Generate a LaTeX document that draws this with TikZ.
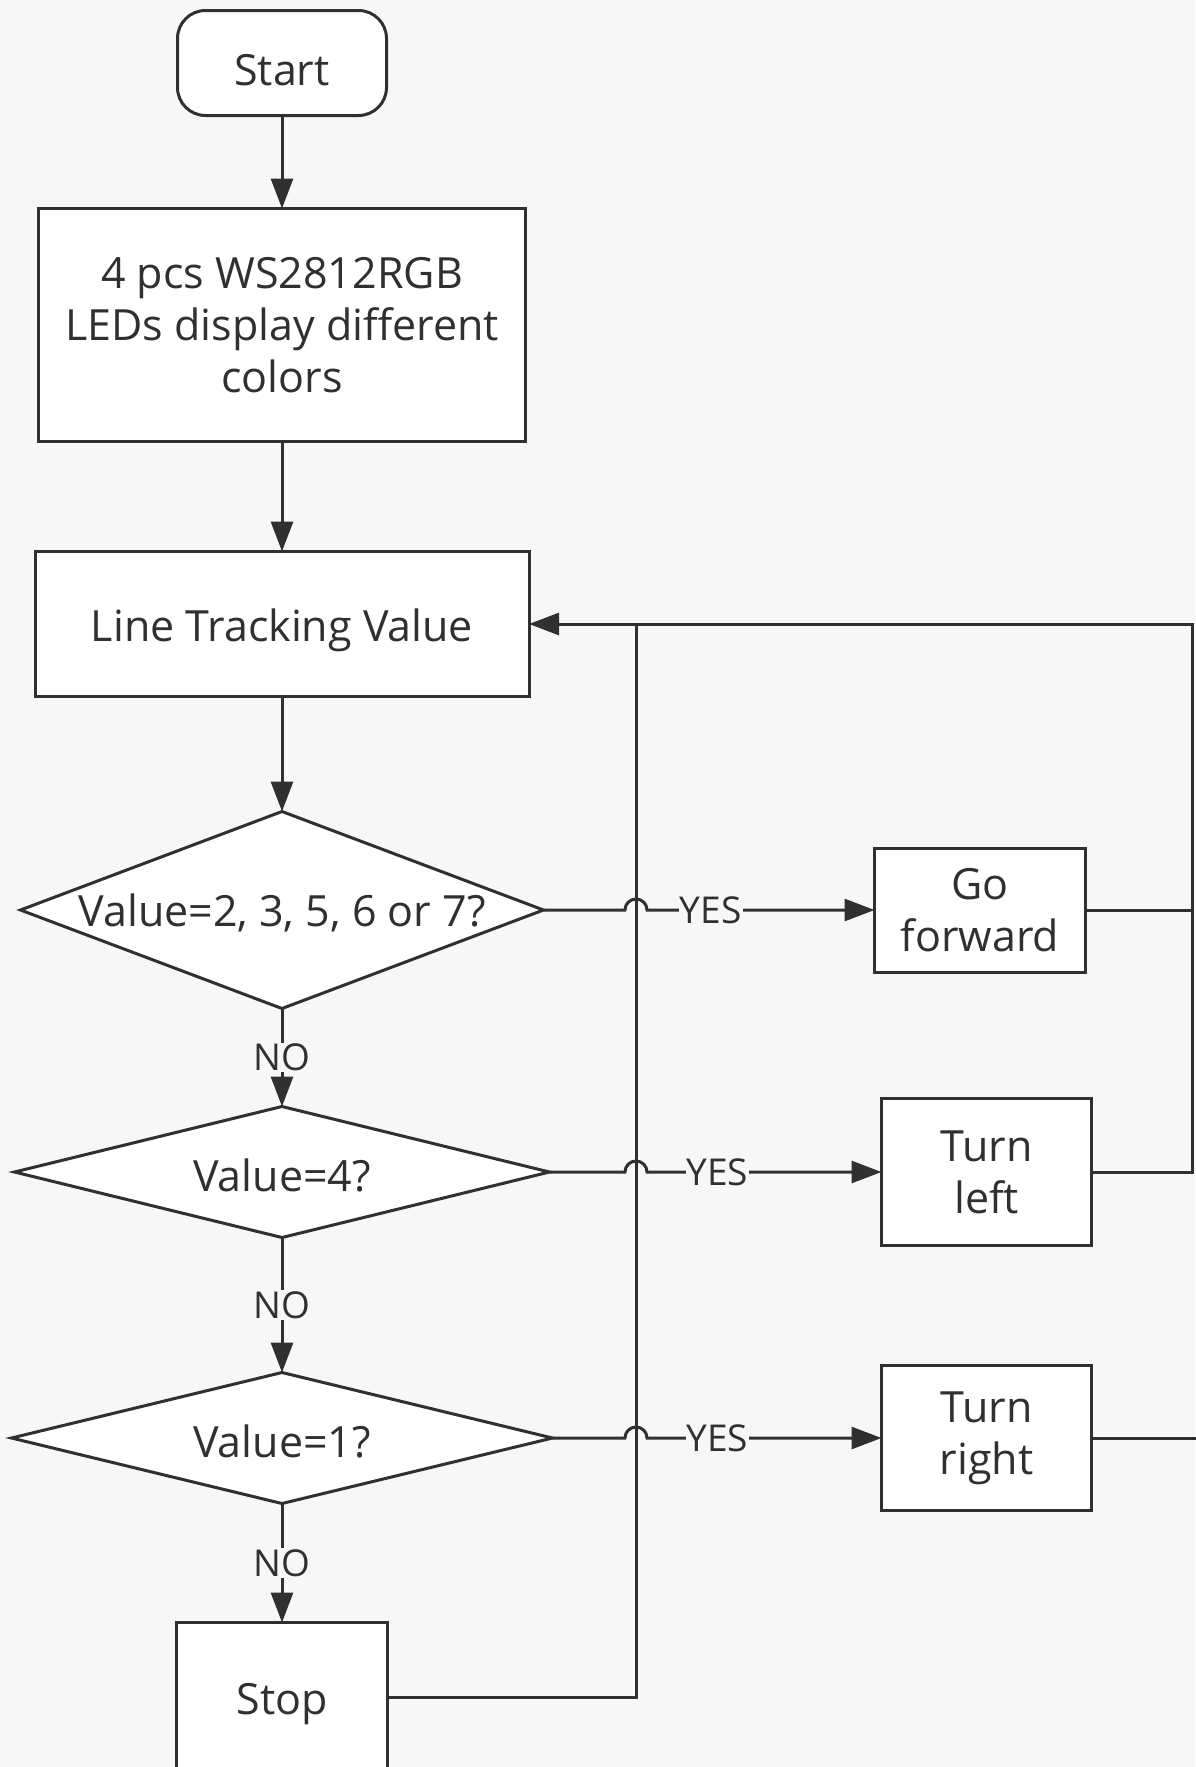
\documentclass[tikz,border=0pt]{standalone}
\usepackage{fontspec}
\setmainfont{Open Sans}
\usetikzlibrary{positioning,arrows.meta,calc,shapes.geometric}
\definecolor{flowBg}{HTML}{F7F7F7}
\definecolor{flowLine}{HTML}{303030}
\newcommand{\overhang}[1]{\makebox[0pt]{#1}}

\begin{document}
\begin{tikzpicture}[
  x=1pt, y=1pt,
  font=\fontsize{43}{52}\selectfont,
  >={Triangle[length=30pt,width=22pt]},
  process/.style={
    rectangle, draw=flowLine, fill=white, text=flowLine,
    line width=3pt, align=center, inner sep=0pt, outer sep=0pt
  },
  oneline/.style={text height=45pt},
  terminal/.style={process, oneline, rounded corners=28pt},
  decision/.style={
    diamond, draw=flowLine, fill=white, text=flowLine,
    line width=3pt, inner sep=0pt, outer sep=0pt, text height=39pt
  },
  flow/.style={->, draw=flowLine, line width=3pt},
  link/.style={draw=flowLine, line width=3pt},
  answer/.style={fill=flowBg, text=flowLine, inner sep=1pt,
    font=\fontsize{37}{42}\selectfont}
]

  \fill[flowBg] (0,0) rectangle (1195,-1767);
  \useasboundingbox (0,0) rectangle (1195,-1767);

  % Main column
  \node[terminal, minimum width=209pt, minimum height=105pt] (start) at (282,-63) {Start};
  \node[process, below=93pt of start, minimum width=487pt, minimum height=233pt] (leds)
    {4 pcs WS2812RGB\\LEDs display different\\colors};
  \node[process, oneline, below=110pt of leds, minimum width=494pt, minimum height=145pt] (ltv)
    {Line Tracking Value};
  \node[decision, below=115pt of ltv, minimum width=523pt, minimum height=197pt] (d1)
    {\overhang{Value=2, 3, 5, 6 or 7?}};
  \node[decision, below=98pt of d1, minimum width=535pt, minimum height=131pt] (d2)
    {\overhang{Value=4?}};
  \node[decision, below=135pt of d2, minimum width=541pt, minimum height=131pt] (d3)
    {\overhang{Value=1?}};
  \node[process, oneline, below=119pt of d3, minimum width=211pt, minimum height=150pt] (stop) {Stop};

  % Actions
  \node[process, right=331pt of d1, minimum width=211pt, minimum height=124pt] (go)
    {Go\\forward};
  \node[process, right=332pt of d2, minimum width=210pt, minimum height=147pt] (tl)
    {Turn\\left};
  \node[process, right=329pt of d3, minimum width=210pt, minimum height=145pt] (tr)
    {Turn\\right};

  \coordinate (rtop) at ($(ltv.east)+(663,0)$);
  \coordinate (bypass) at ($(ltv.east)+(107,0)$);

  % Connectors
  \draw[flow] (start) -- (leds);
  \draw[flow] (leds) -- (ltv);
  \draw[flow] (ltv) -- (d1);
  \draw[flow] (d1.south) -- node[answer] {NO} (d2.north);
  \draw[flow] (d2.south) -- node[answer] {NO} (d3.north);
  \draw[flow] (d3.south) -- node[answer] {NO} (stop.north);

  \draw[flow] (d1.east) -- ($(bypass |- d1.east)+(-11,0)$)
    arc[start angle=180, end angle=0, radius=11pt]
    -- node[answer, pos=0.28] {YES} (go.west);
  \draw[flow] (d2.east) -- ($(bypass |- d2.east)+(-11,0)$)
    arc[start angle=180, end angle=0, radius=11pt]
    -- node[answer, pos=0.3] {YES} (tl.west);
  \draw[flow] (d3.east) -- ($(bypass |- d3.east)+(-11,0)$)
    arc[start angle=180, end angle=0, radius=11pt]
    -- node[answer, pos=0.3] {YES} (tr.west);

  \draw[flow] (tl.east) -| (rtop) -- (ltv.east);
  \draw[link] (go.east) -- (go.east -| rtop);
  \draw[link] (tr.east) -- ++(120,0);
  \draw[link] (stop.east) -| (bypass);

\end{tikzpicture}
\end{document}
